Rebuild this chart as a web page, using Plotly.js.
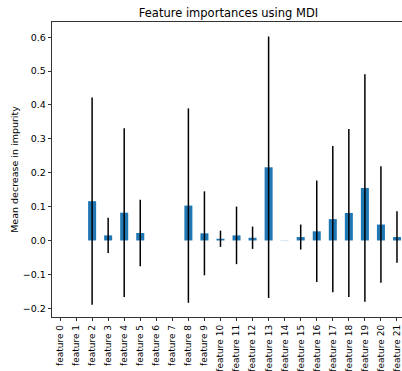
<!DOCTYPE html>
<html><head><meta charset="utf-8">
<script src="https://cdn.plot.ly/plotly-3.0.1.min.js"></script>
<style>html,body{margin:0;padding:0;overflow:hidden;background:#fff;}#chart{width:406px;height:371px;}</style>
</head><body><div id="chart"></div>
<script>
const features = ["feature 0","feature 1","feature 2","feature 3","feature 4","feature 5","feature 6","feature 7","feature 8","feature 9","feature 10","feature 11","feature 12","feature 13","feature 14","feature 15","feature 16","feature 17","feature 18","feature 19","feature 20","feature 21"];
const importances = [0, 0, 0.116, 0.015, 0.082, 0.022, 0, 0, 0.103, 0.021, 0.005, 0.015, 0.008, 0.216, 0.0005, 0.010, 0.027, 0.063, 0.081, 0.155, 0.047, 0.010];
const stdErr = [0, 0, 0.306, 0.052, 0.249, 0.098, 0, 0, 0.287, 0.124, 0.024, 0.085, 0.033, 0.386, 0, 0.037, 0.150, 0.216, 0.248, 0.336, 0.172, 0.076];
const yTicks = [-0.2, -0.1, 0.0, 0.1, 0.2, 0.3, 0.4, 0.5, 0.6];

const font = "DejaVu Sans, sans-serif";
const trace = {
  type: 'bar',
  x: features.map((_, i) => i),
  y: importances,
  width: 0.5,
  marker: {color: '#1f77b4', line: {width: 0}},
  error_y: {type: 'data', array: stdErr, visible: true, color: '#000', thickness: 1.5, width: 0},
  hoverinfo: 'none'
};
const layout = {
  width: 406, height: 371,
  margin: {l: 52, r: 1, t: 22, b: 54, pad: 0},
  paper_bgcolor: '#fff', plot_bgcolor: '#fff',
  showlegend: false,
  title: {text: 'Feature importances using MDI', font: {family: font, size: 11.5, color: '#000'},
          x: 0.5, xref: 'paper', y: 1, yref: 'paper', yanchor: 'bottom', pad: {b: 5}},
  xaxis: {
    range: [-0.5, 21.5], tickmode: 'array', tickvals: features.map((_, i) => i), ticktext: features,
    tickangle: -90, ticks: 'outside', ticklen: 3.5, tickwidth: 0.8, tickcolor: '#000',
    showline: true, linecolor: '#000', linewidth: 0.8, mirror: true,
    showgrid: false, zeroline: false, automargin: false,
    tickfont: {family: font, size: 9, color: '#000'}
  },
  yaxis: {
    range: [-0.226, 0.645], tickmode: 'array', tickvals: yTicks,
    ticktext: yTicks.map(v => (v < 0 ? '\u2212' : '') + Math.abs(v).toFixed(1)),
    ticks: 'outside', ticklen: 3.5, tickwidth: 0.8, tickcolor: '#000',
    showline: true, linecolor: '#000', linewidth: 0.8, mirror: true,
    showgrid: false, zeroline: false, automargin: false,
    tickfont: {family: font, size: 9.5, color: '#000'},
    title: {text: 'Mean decrease in impurity', font: {family: font, size: 9.5, color: '#000'}, standoff: 2}
  }
};
Plotly.newPlot('chart', [trace], layout, {displayModeBar: false, staticPlot: true});
</script></body></html>
